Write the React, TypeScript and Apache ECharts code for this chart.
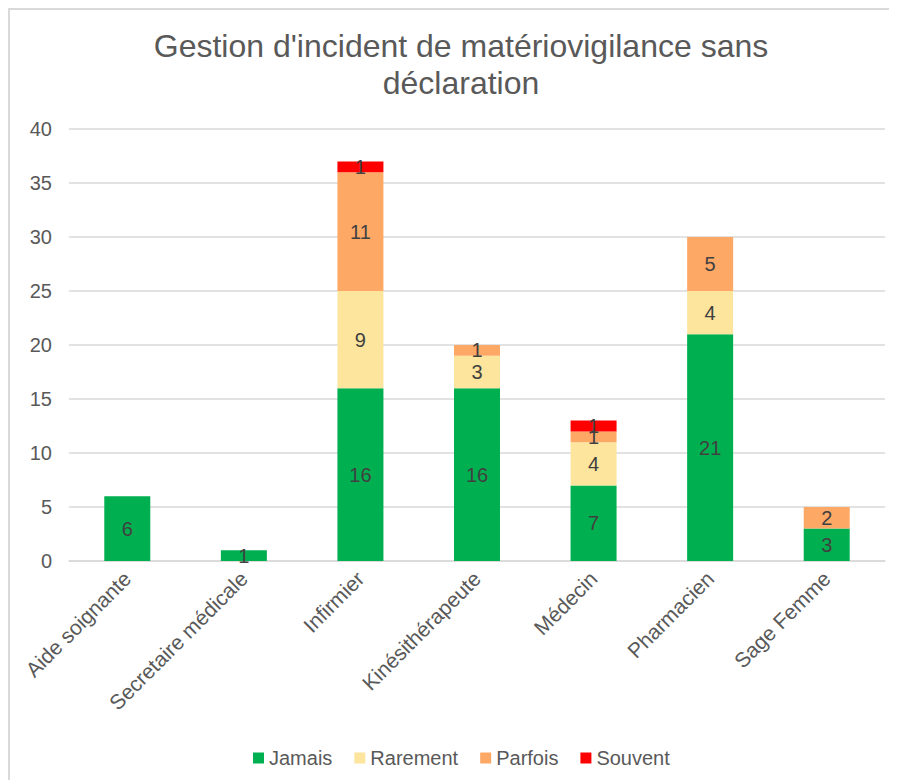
import React, { useEffect, useRef } from "react";
import * as echarts from "echarts";

const categories = [
  "Aide soignante",
  "Secretaire médicale",
  "Infirmier",
  "Kinésithérapeute",
  "Médecin",
  "Pharmacien",
  "Sage Femme",
];
const jamais = [6, 1, 16, 16, 7, 21, 3];
const rarement = [0, 0, 9, 3, 4, 4, 0];
const parfois = [0, 0, 11, 1, 1, 5, 2];
const souvent = [0, 0, 1, 0, 1, 0, 0];
const seriesNames = ["Jamais", "Rarement", "Parfois", "Souvent"];
const seriesColors = ["#00B050", "#FDE59D", "#FEA866", "#FF0000"];
const titleText = "Gestion d'incident de matériovigilance sans\ndéclaration";

const FONT = "'Liberation Sans', Arial, sans-serif";

export default function App() {
  const ref = useRef<HTMLDivElement>(null);
  useEffect(() => {
    document.body.style.overflow = "hidden";
    if (!ref.current) return;
    const chart = echarts.init(ref.current, null, { renderer: "svg" });
    const values = [jamais, rarement, parfois, souvent];
    chart.setOption({
      animation: false,
      textStyle: { fontFamily: FONT },
      title: {
        text: titleText,
        left: 446,
        top: 12,
        textAlign: "center",
        textStyle: {
          fontFamily: FONT,
          fontSize: 32,
          fontWeight: "normal",
          color: "#595959",
          lineHeight: 37,
        },
      },
      legend: {
        left: 238,
        top: 733,
        itemWidth: 11,
        itemHeight: 11,
        itemGap: 22,
        icon: "rect",
        textStyle: { fontFamily: FONT, fontSize: 20, color: "#595959" },
        data: seriesNames,
      },
      grid: { left: 59, right: 25, top: 119, bottom: 239, containLabel: false },
      xAxis: {
        type: "category",
        data: categories,
        axisTick: { show: false },
        axisLine: { lineStyle: { color: "#d9d9d9", width: 1.5 } },
        axisLabel: {
          rotate: 45,
          interval: 0,
          margin: 14,
          color: "#595959",
          fontSize: 21,
          fontFamily: FONT,
        },
      },
      yAxis: {
        type: "value",
        min: 0,
        max: 40,
        interval: 5,
        axisLine: { show: false },
        axisTick: { show: false },
        axisLabel: { margin: 17, color: "#595959", fontSize: 20, fontFamily: FONT },
        splitLine: { lineStyle: { color: "#d9d9d9", width: 1.5 } },
      },
      series: seriesNames.map((name, i) => ({
        name,
        type: "bar",
        stack: "total",
        barWidth: 46,
        data: values[i],
        itemStyle: { color: seriesColors[i] },
        label: {
          show: true,
          position: "inside",
          color: "#404040",
          fontSize: 20,
          fontFamily: FONT,
          formatter: (p: any) => (p.value ? String(p.value) : ""),
        },
      })),
    });
    return () => chart.dispose();
  }, []);
  return (
    <div
      ref={ref}
      style={{
        width: 900,
        height: 790,
        borderTop: "2px solid #d9d9d9",
        borderLeft: "2px solid #d9d9d9",
      }}
    />
  );
}
